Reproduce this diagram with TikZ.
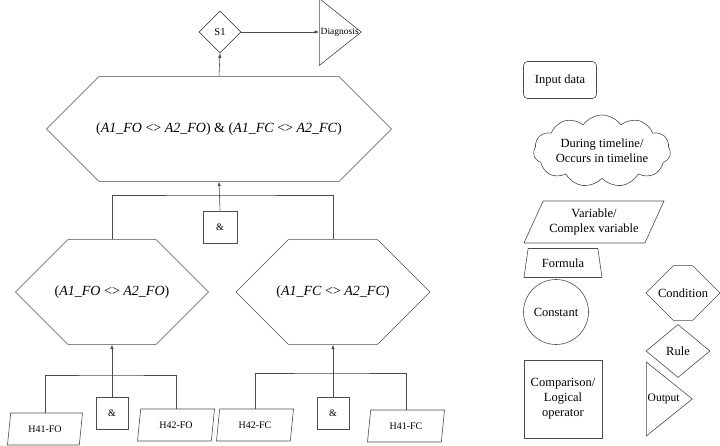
\documentclass[tikz,border=0pt]{standalone}
\usepackage{fontspec}
\setmainfont{Liberation Serif}
\usetikzlibrary{shapes, shapes.symbols, shapes.geometric, shapes.misc, positioning, arrows.meta, calc}

\begin{document}
\begin{tikzpicture}[
    x=1pt, y=-1pt,
    >={Latex[length=4.5pt,width=3.5pt]},
    line/.style={draw=black!70, line width=0.6pt},
    cond/.style={line, chamfered rectangle, chamfered rectangle corners={north west, north east, south west, south east}, inner sep=1pt, font=\fontsize{14}{16}\selectfont},
    rule/.style={line, diamond, inner sep=0pt, font=\fontsize{10.5}{12}\selectfont},
    outp/.style 2 args={line, isosceles triangle, isosceles triangle apex angle=35, isosceles triangle stretches, inner sep=0pt,
        label={[anchor=west, inner sep=1.5pt, font=\fontsize{#1}{12}\selectfont]west:#2}},
    var/.style={line, trapezium, trapezium left angle=#1, trapezium right angle=180-#1, trapezium stretches body, inner sep=1pt, font=\fontsize{10}{12}\selectfont},
    op/.style={line, rectangle, inner sep=1pt, font=\fontsize{10}{12}\selectfont},
    legend/.style={font=\fontsize{12.5}{15}\selectfont, align=center}
]
\useasboundingbox (0,0) rectangle (720,446);

% rule and output
\node[rule, minimum width=42, minimum height=42] (S1) at (220,32) {S1};
\node[outp={9.5}{Diagnosis}, minimum width=67, minimum height=42, anchor=west] (Diag) at (319,32) {};

% conditions
\node[cond, minimum width=345, minimum height=90, chamfered rectangle xsep=88, chamfered rectangle ysep=45] (Top) at (219,129) {(\textit{A1\_FO} <> \textit{A2\_FO}) \& (\textit{A1\_FC} <> \textit{A2\_FC})};
\node[cond, minimum width=193, minimum height=90, chamfered rectangle xsep=48, chamfered rectangle ysep=45] (CondFO) at (112,292) {(\textit{A1\_FO} <> \textit{A2\_FO})};
\node[cond, minimum width=194, minimum height=90, chamfered rectangle xsep=48, chamfered rectangle ysep=45] (CondFC) at (333,292) {(\textit{A1\_FC} <> \textit{A2\_FC})};

% logical operators
\node[op, minimum width=34, minimum height=32] (And0) at (220,227) {\&};
\node[op, minimum width=32, minimum height=32] (And1) at (112,413) {\&};
\node[op, minimum width=32, minimum height=32] (And2) at (333,413) {\&};

% input variables
\node[var=70, minimum width=75, minimum height=32] (H41FO) at (45,429) {H41-FO};
\node[var=70, minimum width=77, minimum height=32] (H42FO) at (176,425) {H42-FO};
\node[var=70, minimum width=77, minimum height=32] (H42FC) at (255,425) {H42-FC};
\node[var=70, minimum width=77, minimum height=32] (H41FC) at (406,426) {H41-FC};

\coordinate (J0) at (219,195);
\coordinate (J1) at (112,375);
\coordinate (J2) at (333,373);

% connectors
\draw[line, ->] (S1.east) -- (Diag.west);
\draw[line, ->] (Top.north) -- (S1.south);
\draw[line] (CondFO.north) |- (J0) -| (CondFC.north);
\draw[line, ->] (And0.north) -- (Top.south);
\draw[line] (H41FO.north) |- (J1) -| (H42FO.north);
\draw[line, ->] (And1.north) -- (CondFO.south);
\draw[line] (H42FC.north) |- (J2) -| (H41FC.north);
\draw[line, ->] (And2.north) -- (CondFC.south);

% legend
\node[line, legend, rounded corners=4pt, minimum width=73, minimum height=37] (Inp) at (560,80) {Input data};
\node[line, legend, cloud, cloud puffs=11, cloud puff arc=110, cloud ignores aspect, minimum width=137, minimum height=72, inner sep=0pt] (Tline) at (602,151) {During timeline/\\Occurs in timeline};
\node[var=56, legend, minimum width=140, minimum height=42] (Var) at (594,222) {Variable/\\Complex variable};
\node[line, legend, trapezium, trapezium left angle=69, trapezium right angle=69, trapezium stretches body, minimum width=78, minimum height=29, inner sep=1pt] (Form) at (563,263) {Formula};
\node[line, legend, circle, minimum size=65, inner sep=0pt] (Const) at (556,312) {Constant};
\node[op, legend, minimum width=78, minimum height=78] (Comp) at (563,399) {Comparison/\\Logical\\operator};
\node[cond, legend, minimum width=74, minimum height=44, chamfered rectangle xsep=14, chamfered rectangle ysep=22] (CondL) at (683,293) {Condition};
\node[rule, legend, minimum width=64, minimum height=53] (RuleL) at (678,351) {Rule};
\node[outp={11.5}{Output}, minimum width=74, minimum height=46, anchor=west] (OutL) at (646,399) {};
\end{tikzpicture}
\end{document}
